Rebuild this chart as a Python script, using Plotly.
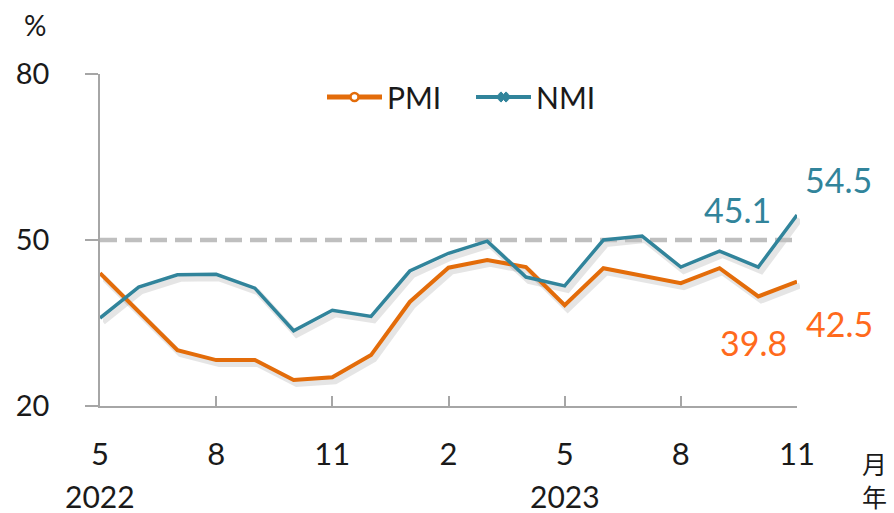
import plotly.graph_objects as go

# ---- data ----
month_labels = ["5", "6", "7", "8", "9", "10", "11", "12", "1", "2", "3", "4",
                "5", "6", "7", "8", "9", "10", "11"]
tick_idx = [0, 3, 6, 9, 12, 15, 18]
year_labels = ["2022", "2023"]
year_idx = [0, 12]
pmi = [44.0, 37.0, 30.1, 28.3, 28.3, 24.7, 25.2, 29.2, 38.8, 45.0, 46.4, 45.1,
       38.2, 44.9, 43.5, 42.2, 44.9, 39.8, 42.5]
nmi = [35.9, 41.5, 43.7, 43.8, 41.3, 33.6, 37.3, 36.2, 44.4, 47.6, 49.8, 43.3,
       41.7, 50.0, 50.7, 45.1, 48.0, 45.1, 54.5]
threshold = 50
y_ticks = [20, 50, 80]

x = list(range(len(month_labels)))

ORANGE = "#E36C0A"
TEAL = "#31849B"
ORANGE_TXT = "#FF6A1C"
AXIS = "#A6A6A6"
FONT = "Lato"
TXT = "#1a1a1a"

fig = go.Figure()

# shadows (xaxis / yaxis, shifted, drawn first)
for ser in (pmi, nmi):
    fig.add_trace(go.Scatter(x=x, y=ser, mode="lines", xaxis="x", yaxis="y",
                             line=dict(color="rgba(0,0,0,0.10)", width=6),
                             showlegend=False, hoverinfo="skip"))

# threshold dashed line
fig.add_trace(go.Scatter(x=[x[0], x[-1]], y=[threshold, threshold], mode="lines",
                         xaxis="x2", yaxis="y2",
                         line=dict(color="#BFBFBF", width=4.5, dash="17px,8px"),
                         showlegend=False, hoverinfo="skip"))

fig.add_trace(go.Scatter(x=x, y=pmi, mode="lines", xaxis="x2", yaxis="y2",
                         line=dict(color=ORANGE, width=4), showlegend=False))
fig.add_trace(go.Scatter(x=x, y=nmi, mode="lines", xaxis="x2", yaxis="y2",
                         line=dict(color=TEAL, width=3.5), showlegend=False))

# legend-only traces
fig.add_trace(go.Scatter(x=[None], y=[None], mode="lines+markers", name="PMI",
                         xaxis="x2", yaxis="y2",
                         line=dict(color=ORANGE, width=5),
                         marker=dict(symbol="circle", size=8, color="white",
                                     line=dict(color=ORANGE, width=2.5))))
fig.add_trace(go.Scatter(x=[None], y=[None], mode="lines+markers", name="NMI",
                         xaxis="x2", yaxis="y2",
                         line=dict(color=TEAL, width=4),
                         marker=dict(symbol="x", size=9, color=TEAL,
                                     line=dict(color=TEAL, width=1))))

W, H = 700, 336
rng_x = [x[0], x[-1]]
rng_y = [20, 80]

hidden = dict(visible=False, showgrid=False, zeroline=False)
fig.update_layout(
    width=894, height=513,
    margin=dict(l=100, r=94, t=74, b=103),
    paper_bgcolor="white", plot_bgcolor="rgba(0,0,0,0)",
    font=dict(family=FONT, color=TXT),
    xaxis=dict(domain=[3 / W, 1], range=rng_x, anchor="y", **hidden),
    yaxis=dict(domain=[0, 332 / H], range=rng_y, anchor="x", **hidden),
    xaxis2=dict(domain=[0, 697 / W], range=rng_x, anchor="y2",
                showgrid=False, zeroline=False, showline=True,
                linecolor=AXIS, linewidth=1.5,
                tickmode="array", tickvals=tick_idx,
                ticktext=[month_labels[i] for i in tick_idx],
                ticks="inside", ticklen=10, tickwidth=1.5, tickcolor=AXIS,
                ticklabelstandoff=20,
                tickfont=dict(size=31, family=FONT, color=TXT)),
    yaxis2=dict(domain=[4 / H, 1], range=rng_y, anchor="x2",
                showgrid=False, zeroline=False, showline=True,
                linecolor=AXIS, linewidth=1.5,
                tickmode="array", tickvals=y_ticks,
                ticks="outside", ticklen=13, tickwidth=1.5, tickcolor=AXIS,
                ticklabelstandoff=30,
                tickfont=dict(size=29, family=FONT, color=TXT)),
    legend=dict(orientation="h", x=(322 - 100) / W, y=(410 - 97) / H,
                xanchor="left", yanchor="middle",
                font=dict(size=30, family=FONT, color=TXT),
                itemwidth=55, entrywidth=79, entrywidthmode="pixels",
                bgcolor="rgba(0,0,0,0)", tracegroupgap=0),
)

ann = []
ann.append(dict(text="%", xref="paper", yref="paper", x=(35 - 100) / W,
                y=(410 - 25) / H, xanchor="center", yanchor="middle",
                showarrow=False, font=dict(size=28, family=FONT, color=TXT)))
for lbl, i in zip(year_labels, year_idx):
    ann.append(dict(text=lbl, xref="x2", yref="paper", x=i, y=(410 - 496) / H,
                    xanchor="center", yanchor="middle", showarrow=False,
                    font=dict(size=30, family=FONT, color=TXT)))
ann.append(dict(text="月", xref="paper", yref="paper", x=(874 - 100) / W,
                y=(410 - 463) / H, xanchor="center", yanchor="middle",
                showarrow=False,
                font=dict(size=25, family="Noto Sans CJK SC", color=TXT)))
ann.append(dict(text="年", xref="paper", yref="paper", x=(874 - 100) / W,
                y=(410 - 496) / H, xanchor="center", yanchor="middle",
                showarrow=False,
                font=dict(size=25, family="Noto Sans CJK SC", color=TXT)))

# data labels
n = len(x) - 1
labels = [
    (n - 1, nmi[n - 1], -21, 58, TEAL),
    (n, nmi[n], 41, 36, TEAL),
    (n - 1, pmi[n - 1], -5, -46, ORANGE_TXT),
    (n, pmi[n], 42, -42, ORANGE_TXT),
]
for xi, yv, dx, dy, col in labels:
    ann.append(dict(text=f"{yv:.1f}", xref="x2", yref="y2", x=xi, y=yv,
                    xshift=dx, yshift=dy, xanchor="center", yanchor="middle",
                    showarrow=False, font=dict(size=34, family=FONT, color=col)))
fig.update_layout(annotations=ann)

fig.write_html("out.html", config={"displayModeBar": False},
               post_script="document.body.style.margin='0';")
